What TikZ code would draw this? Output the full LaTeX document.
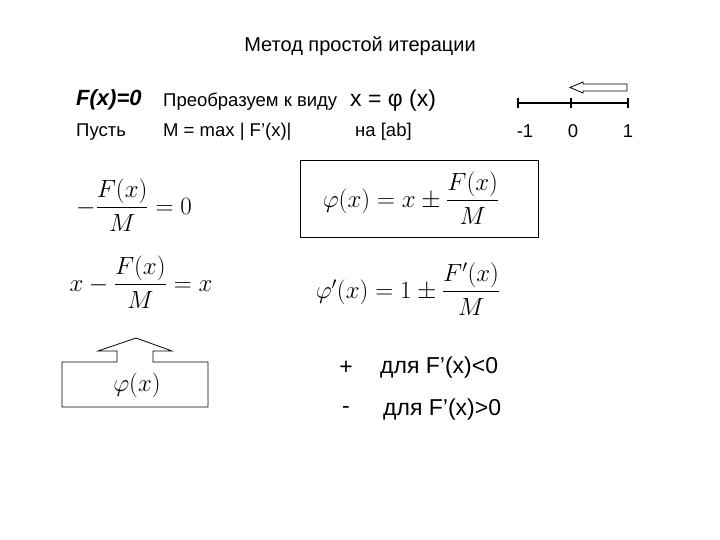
\documentclass[tikz,border=0pt]{standalone}
\usepackage{amsmath}
\usepackage{fontspec}
\setmainfont{Liberation Sans}
\begin{document}
\begin{tikzpicture}[x=1pt,y=-1pt,
  txt/.style={inner sep=0pt,anchor=west,font=\fontsize{18.5}{20}\selectfont},
  big/.style={inner sep=0pt,anchor=west,font=\fontsize{23}{25}\selectfont},
  fm/.style={inner sep=0pt,font=\fontsize{26}{28}\selectfont},
  ln/.style={line width=0.8pt}]
\useasboundingbox (0,0) rectangle (720,540);
\node[inner sep=0pt,font=\fontsize{20}{22}\selectfont] (title) at (360,46) {Метод простой итерации};
\node[big,font=\fontsize{22}{24}\selectfont\bfseries\itshape] (F) at (76,100) {F(x)=0};
\node[txt] (pr) at (163,102) {Преобразуем к виду};
\node[big] (xe) at (350,101) {x = φ (x)};
\node[txt] (pu) at (76,132) {Пусть};
\node[txt] (M) at (163,132) {M = max | F’(x)|};
\node[txt] (ab) at (355,132) {на [ab]};
% number line
\coordinate (l1) at (518,103); \coordinate (l2) at (571,103); \coordinate (l3) at (628,103);
\draw[line width=1.5pt] (l1) -- (l3);
\foreach \p in {l1,l2,l3} \draw[line width=1.2pt] ([yshift=-5]\p) -- ([yshift=5]\p);
\node[txt,anchor=center] (m1) at (525,131) {-1};
\node[txt,anchor=center] (z) at (573,131) {0};
\node[txt,anchor=center] (o) at (628,131) {1};
\draw[ln] (627,84) -- (583,84) -- (583,82) -- (570,87.5) -- (583,93) -- (583,91) -- (627,91) -- cycle;
% formulas
\node[fm] (f1) at (134,205) {$-\dfrac{F(x)}{M}=0$};
\node[fm] (f2) at (141,282) {$x-\dfrac{F(x)}{M}=x$};
\draw[ln] (300,160) rectangle (538,237);
\node[fm] (f3) at (411,198) {$\varphi(x)=x\pm\dfrac{F(x)}{M}$};
\node[fm] (f4) at (408,289) {$\varphi'(x)=1\pm\dfrac{F'(x)}{M}$};
% box with arrow
\draw[ln] (117,362) -- (62,362) -- (62,407) -- (208,407) -- (208,362) -- (153,362) -- (153,351) -- (172,351) -- (136,338) -- (98,351) -- (117,351) -- cycle;
\node[fm,font=\fontsize{30}{32}\selectfont] (phi) at (137,385) {$\varphi(x)$};
\node[big,anchor=center] (pl) at (346,368) {+};
\node[big] (d1) at (380,368) {для F’(x)<0};
\node[big,anchor=center] (mi) at (346,410) {-};
\node[big] (d2) at (383,410) {для F’(x)>0};
\end{tikzpicture}
\end{document}
